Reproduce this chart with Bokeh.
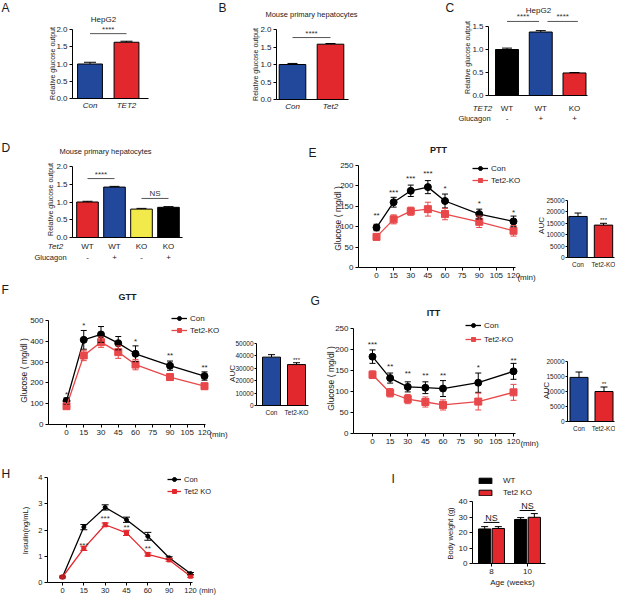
import math
from bokeh.plotting import figure
from bokeh.models import (Range1d, Label, Whisker, TeeHead, ColumnDataSource,
                          FixedTicker, Legend, LegendItem, PrintfTickFormatter)
from bokeh.layouts import row, column
from bokeh.core.properties import value
from bokeh.embed import file_html
from bokeh.resources import INLINE

FONT = "Liberation Sans"
BLUE = "#21489b"
RED = "#e2282c"
LRED = "#e8484a"
YELLOW = "#f2ea4b"
BLACK = "#000000"
TXT = "#1a1a1a"

# ---------------- data ----------------
a_cats = ["Con", "TET2"]
a_vals = [1.0, 1.63]
a_err = [0.05, 0.03]
a_sig = [(0, 1, 1.88, "****")]

b_cats = ["Con", "Tet2"]
b_vals = [1.0, 1.58]
b_err = [0.03, 0.02]
b_sig = [(0, 1, 1.77, "****")]

c_tet2 = ["WT", "WT", "KO"]
c_gluc = ["-", "+", "+"]
c_vals = [1.0, 1.38, 0.49]
c_err = [0.03, 0.03, 0.01]
c_sig = [(0, 0.95, 1.61, "****"), (1.2, 2.1, 1.61, "****")]

d_tet2 = ["WT", "WT", "KO", "KO"]
d_gluc = ["-", "+", "-", "+"]
d_vals = [1.0, 1.42, 0.80, 0.85]
d_err = [0.02, 0.02, 0.02, 0.02]
d_sig = [(0, 1, 1.66, "****"), (2, 3, 1.10, "NS")]

minutes = [0, 15, 30, 45, 60, 90, 120]

e_con = [98, 160, 188, 197, 163, 131, 113]
e_con_err = [8, 12, 14, 16, 17, 12, 13]
e_ko = [75, 118, 138, 143, 131, 112, 90]
e_ko_err = [6, 11, 10, 17, 14, 14, 13]
e_stars = ["**", "***", "***", "***", "*", "*", "*"]
e_star_y = [127, 184, 217, 230, 193, 156, 135]
e_auc = [18000, 14200]
e_auc_err = [1500, 800]
e_auc_star = ("***", 16600)

f_con = [113, 407, 433, 391, 340, 283, 233]
f_con_err = [15, 45, 38, 32, 38, 22, 20]
f_ko = [88, 332, 396, 348, 288, 228, 184]
f_ko_err = [12, 25, 25, 30, 25, 15, 15]
f_stars = ["*", "*", "", "", "*", "**", "**"]
f_star_y = [144, 476, 0, 0, 401, 332, 272]
f_auc = [39000, 33000]
f_auc_err = [2000, 1500]
f_auc_star = ("***", 36700)

g_con = [183, 132, 111, 109, 107, 121, 148]
g_con_err = [16, 12, 12, 14, 19, 23, 19]
g_ko = [140, 97, 82, 75, 68, 76, 98]
g_ko_err = [9, 10, 11, 12, 12, 20, 19]
g_stars = ["***", "**", "**", "**", "**", "*", "**"]
g_star_y = [211, 159, 143, 137, 137, 156, 175]
g_auc = [14700, 10000]
g_auc_err = [1800, 1500]
g_auc_star = ("**", 12600)

auc_cats = ["Con", "Tet2-KO"]

h_min = ["0", "15", "30", "45", "60", "90", "120"]
h_con = [0.21, 2.11, 2.86, 2.39, 1.76, 0.94, 0.34]
h_con_err = [0.03, 0.10, 0.10, 0.10, 0.15, 0.04, 0.04]
h_ko = [0.21, 1.30, 2.20, 1.89, 1.07, 0.86, 0.24]
h_ko_err = [0.03, 0.08, 0.07, 0.10, 0.06, 0.05, 0.04]
h_stars = ["", "***", "***", "**", "**", "", ""]
h_star_y = [0, 1.41, 2.43, 2.08, 1.28, 0, 0]

i_ages = ["8", "10"]
i_wt = [22.3, 28.4]
i_wt_err = [1.5, 1.2]
i_ko = [22.6, 29.8]
i_ko_err = [1.2, 2.4]
i_ns_line = [26.5, 34.2]
i_ns_text = [29.6, 37.3]


# ---------------- helpers ----------------
def mk(box, xa, ya):
    """Figure whose frame is the whole box; xa/ya are (pixel, value, pixel, value)
    anchors in page pixels used only to place the scales."""
    X0, X1, Y0, Y1 = box

    def fx(px):
        return xa[1] + (px - xa[0]) * (xa[3] - xa[1]) / (xa[2] - xa[0])

    def fy(py):
        return ya[1] + (py - ya[0]) * (ya[3] - ya[1]) / (ya[2] - ya[0])

    p = figure(width=X1 - X0, height=Y1 - Y0, output_backend="svg",
               toolbar_location=None, min_border=0, min_border_left=0,
               min_border_right=0, min_border_top=0, min_border_bottom=0,
               x_range=Range1d(fx(X0), fx(X1)), y_range=Range1d(fy(Y1), fy(Y0)))
    p.title.visible = False
    p.outline_line_color = None
    p.xgrid.visible = False
    p.ygrid.visible = False
    return p, fx, fy


def lbl(p, x, y, text, size="8px", style="normal", align="center",
        baseline="middle", color=TXT, angle=0.0):
    p.add_layout(Label(x=x, y=y, text=text, text_font=FONT, text_font_size=size,
                       text_font_style=style, text_align=align,
                       text_baseline=baseline, text_color=color, angle=angle))


def style_axis(ax, tick_fs, tick_out=3, standoff=2):
    ax.axis_line_color = BLACK
    ax.axis_line_width = 1
    ax.major_tick_line_color = BLACK
    ax.major_tick_out = tick_out
    ax.major_tick_in = 0
    ax.minor_tick_line_color = None
    ax.major_label_text_font = FONT
    ax.major_label_text_font_size = tick_fs
    ax.major_label_text_color = TXT
    ax.major_label_standoff = standoff


def place_axes(p, fx, fy, yaxis_px, xaxis_end_px, xloc=0.0):
    xa = p.xaxis[0]
    ya = p.yaxis[0]
    xa.fixed_location = xloc
    ya.fixed_location = fx(yaxis_px)
    xa.bounds = (fx(yaxis_px), fx(xaxis_end_px))
    return xa, ya


def bars(p, x, vals, errs, colors, width, cap):
    src = ColumnDataSource(dict(x=x, top=vals,
                                up=[v + e for v, e in zip(vals, errs)],
                                c=colors))
    r = p.vbar(x="x", top="top", width=width, fill_color="c",
               line_color=BLACK, line_width=1, source=src)
    p.add_layout(Whisker(base="x", lower="top", upper="up", source=src,
                         line_color=BLACK, line_width=1, level="overlay",
                         upper_head=TeeHead(size=cap, line_color=BLACK, line_width=1),
                         lower_head=None))
    return r


def bar_axes(p, fx, fy, yaxis_px, xend_px, cats, yticks, fmt, x_fs="8px",
             y_fs="8px", italic=False, x_standoff=2, y_tick_out=3, y_standoff=2):
    xa, ya = place_axes(p, fx, fy, yaxis_px, xend_px)
    style_axis(xa, x_fs, tick_out=0, standoff=x_standoff)
    style_axis(ya, y_fs, tick_out=y_tick_out, standoff=y_standoff)
    xa.ticker = FixedTicker(ticks=list(range(len(cats))))
    xa.major_label_overrides = {i: c for i, c in enumerate(cats)}
    if italic:
        xa.major_label_text_font_style = "italic"
    ya.ticker = FixedTicker(ticks=yticks)
    if fmt:
        ya.formatter = PrintfTickFormatter(format=fmt)
    ya.bounds = (yticks[0], yticks[-1])


def sig(p, sigs, fs="8px"):
    for x0, x1, y, t in sigs:
        p.segment(x0=[x0], y0=[y], x1=[x1], y1=[y], line_color="#555555",
                  line_width=1)
        p.text(x=[(x0 + x1) / 2], y=[y], text=[t], text_align="center",
               text_baseline="bottom", text_font=value(FONT),
               text_font_size=value(fs), text_color="#333333")


def series(p, x, y, err, color, marker, size, lw, cap):
    src = ColumnDataSource(dict(x=x, y=y,
                                lo=[a - b for a, b in zip(y, err)],
                                up=[a + b for a, b in zip(y, err)]))
    r1 = p.line("x", "y", source=src, line_color=color, line_width=lw)
    p.add_layout(Whisker(base="x", lower="lo", upper="up", source=src,
                         line_color=color, line_width=1, level="glyph",
                         upper_head=TeeHead(size=cap, line_color=color, line_width=1),
                         lower_head=TeeHead(size=cap, line_color=color, line_width=1)))
    r2 = p.scatter("x", "y", source=src, marker=marker, size=size,
                   fill_color=color, line_color=color)
    return [r1, r2]


def stars(p, x, ys, txt, fs="8px", color="#222222"):
    src = ColumnDataSource(dict(x=[a for a, t in zip(x, txt) if t],
                                y=[a for a, t in zip(ys, txt) if t],
                                t=[t for t in txt if t]))
    p.text(x="x", y="y", text="t", source=src, text_align="center",
           text_baseline="middle", text_font=value(FONT),
           text_font_size=value(fs), text_color=color)


def legend(p, items, loc, fs="8px", gw=16, gh=10, spacing=2, standoff=3):
    lg = Legend(items=[LegendItem(label=l, renderers=r) for l, r in items],
                location=loc, label_text_font=FONT, label_text_font_size=fs,
                label_text_color=TXT,
                glyph_width=gw, glyph_height=gh, spacing=spacing, padding=0,
                margin=0, border_line_color=None, background_fill_alpha=0,
                label_standoff=standoff, label_height=gh, label_width=10)
    p.add_layout(lg)


def line_axes(p, fx, fy, yaxis_px, xend_px, xticks, yticks, x_fs="8px", y_fs="8px"):
    xa, ya = place_axes(p, fx, fy, yaxis_px, xend_px)
    style_axis(xa, x_fs)
    style_axis(ya, y_fs)
    xa.ticker = FixedTicker(ticks=xticks)
    ya.ticker = FixedTicker(ticks=yticks)
    ya.bounds = (yticks[0], yticks[-1])
    return xa, ya


def auc_panel(box, xa_, ya_, yaxis_px, xend_px, vals, errs, yticks, star, ylab_xy):
    p, fx, fy = mk(box, xa_, ya_)
    idx = list(range(len(vals)))
    bars(p, idx, vals, errs, [BLUE, RED], 0.72, 7)
    bar_axes(p, fx, fy, yaxis_px, xend_px, auc_cats, yticks, None, x_fs="6.5px",
             y_fs="6.5px", x_standoff=3, y_tick_out=2, y_standoff=1)
    p.text(x=[idx[-1]], y=[star[1]], text=[star[0]], text_align="center",
           text_baseline="middle", text_font=value(FONT),
           text_font_size=value("6px"), text_color="#222222")
    lbl(p, fx(ylab_xy[0]), fy(ylab_xy[1]), "AUC", "8px", angle=math.pi / 2)
    return p


# ---------------- Row 1 ----------------
boxA = (0, 204, 0, 130)
pA, fx, fy = mk(boxA, (89.5, 0, 126, 1), (98, 0, 29, 2.0))
bars(pA, list(range(len(a_vals))), a_vals, a_err, [BLUE, RED], 0.68, 12)
bar_axes(pA, fx, fy, 72, 148, a_cats, [0, 0.5, 1.0, 1.5, 2.0], "%.1f", italic=True)
sig(pA, a_sig)
lbl(pA, fx(103), fy(19), "HepG2", "8px")
lbl(pA, fx(52), fy(63), "Relative glucose output", "7px", angle=math.pi / 2)
lbl(pA, fx(1), fy(0), "A", "12px", align="left", baseline="top")

boxB = (204, 400, 0, 130)
pB, fx, fy = mk(boxB, (292, 0, 330, 1), (99, 0, 29, 2.0))
bars(pB, list(range(len(b_vals))), b_vals, b_err, [BLUE, RED], 0.7, 10)
bar_axes(pB, fx, fy, 276, 348, b_cats, [0, 0.5, 1.0, 1.5, 2.0], "%.1f", italic=True)
sig(pB, b_sig)
lbl(pB, fx(311), fy(14), "Mouse primary hepatocytes", "7.5px")
lbl(pB, fx(255), fy(64), "Relative glucose output", "7px", angle=math.pi / 2)
lbl(pB, fx(218), fy(0), "B", "12px", align="left", baseline="top")

boxC = (400, 615, 0, 130)
pC, fx, fy = mk(boxC, (506.5, 0, 574, 2), (95, 0, 26, 1.5))
bars(pC, list(range(len(c_vals))), c_vals, c_err, [BLACK, BLUE, RED], 0.68, 10)
bar_axes(pC, fx, fy, 488, 587, c_tet2, [0, 0.5, 1.0, 1.5], "%.1f", x_standoff=8)
sig(pC, c_sig)
lbl(pC, fx(538), fy(10), "HepG2", "8px")
lbl(pC, fx(467), fy(57), "Relative glucose output", "7px", angle=math.pi / 2)
lbl(pC, fx(445), fy(0), "C", "12px", align="left", baseline="top")
lbl(pC, fx(482), fy(108), "TET2", "8px", style="italic")
lbl(pC, fx(474), fy(118), "Glucagon", "7.5px")
for i, s in enumerate(c_gluc):
    lbl(pC, i, fy(118), s, "8px")

# ---------------- Row 2 ----------------
boxD = (0, 208, 130, 282)
pD, fx, fy = mk(boxD, (87, 0, 168, 3), (237, 0, 166, 2.0))
bars(pD, list(range(len(d_vals))), d_vals, d_err, [RED, BLUE, YELLOW, BLACK], 0.8, 10)
bar_axes(pD, fx, fy, 72, 182, d_tet2, [0, 0.5, 1.0, 1.5, 2.0], "%.1f", x_standoff=4)
sig(pD, d_sig)
lbl(pD, fx(105), fy(151), "Mouse primary hepatocytes", "7.5px")
lbl(pD, fx(50), fy(199), "Relative glucose output", "7px", angle=math.pi / 2)
lbl(pD, fx(1), fy(140), "D", "12px", align="left", baseline="top")
lbl(pD, fx(55), fy(246), "Tet2", "8px", style="italic")
lbl(pD, fx(50), fy(257), "Glucagon", "7.5px")
for i, s in enumerate(d_gluc):
    lbl(pD, i, fy(257), s, "8px")

boxE = (208, 537, 130, 282)
pE, fx, fy = mk(boxE, (376, 0, 513, 120), (267, 0, 165, 250))
rc = series(pE, minutes, e_con, e_con_err, BLACK, "circle", 7, 1.3, 6)
rk = series(pE, minutes, e_ko, e_ko_err, LRED, "square", 7, 1.3, 6)
stars(pE, minutes, e_star_y, e_stars)
line_axes(pE, fx, fy, 358, 515, list(range(0, 121, 15)), [0, 50, 100, 150, 200, 250])
legend(pE, [("Con", rc), ("Tet2-KO", rk)], (472 - 208, 282 - 185))
lbl(pE, fx(438), fy(149), "PTT", "9px", style="bold")
lbl(pE, fx(337), fy(218), "Glucose ( mg/dl )", "8.5px", angle=math.pi / 2)
lbl(pE, fx(308), fy(145), "E", "12px", align="left", baseline="top")
lbl(pE, fx(526), fy(277), "(min)", "8px")

boxEa = (537, 615, 130, 282)
pEa = auc_panel(boxEa, (577.5, 0, 603, 1), (257, 0, 200, 25000), 567, 614,
                e_auc, e_auc_err, [0, 5000, 10000, 15000, 20000, 25000],
                e_auc_star, (541, 225))

# ---------------- Row 3 ----------------
boxF = (0, 228, 282, 450)
pF, fx, fy = mk(boxF, (66, 0, 204, 120), (424, 0, 320, 500))
rc = series(pF, minutes, f_con, f_con_err, BLACK, "circle", 7, 1.3, 6)
rk = series(pF, minutes, f_ko, f_ko_err, LRED, "square", 7, 1.3, 6)
stars(pF, minutes, f_star_y, f_stars)
line_axes(pF, fx, fy, 48, 205, list(range(0, 121, 15)), [0, 100, 200, 300, 400, 500])
legend(pF, [("Con", rc), ("Tet2-KO", rk)], (171, 450 - 335))
lbl(pF, fx(127), fy(296), "GTT", "9px", style="bold")
lbl(pF, fx(23), fy(370), "Glucose ( mg/dl )", "8.5px", angle=math.pi / 2)
lbl(pF, fx(1), fy(282), "F", "12px", align="left", baseline="top")
lbl(pF, fx(218), fy(434), "(min)", "8px")

boxFa = (228, 309, 282, 450)
pFa = auc_panel(boxFa, (271, 0, 296, 1), (405, 0, 343, 50000), 256, 308,
                f_auc, f_auc_err, [0, 10000, 20000, 30000, 40000, 50000],
                f_auc_star, (232, 373))

boxG = (309, 541, 282, 450)
pG, fx, fy = mk(boxG, (372, 0, 513, 120), (433, 0, 328, 250))
rc = series(pG, minutes, g_con, g_con_err, BLACK, "circle", 7, 1.3, 6)
rk = series(pG, minutes, g_ko, g_ko_err, LRED, "square", 7, 1.3, 6)
stars(pG, minutes, g_star_y, g_stars)
line_axes(pG, fx, fy, 353, 515, list(range(0, 121, 15)), [0, 50, 100, 150, 200, 250])
legend(pG, [("Con", rc), ("Tet2-KO", rk)], (465 - 309, 450 - 344), spacing=4)
lbl(pG, fx(433), fy(312), "ITT", "9px", style="bold")
lbl(pG, fx(330), fy(378), "Glucose ( mg/dl )", "8.5px", angle=math.pi / 2)
lbl(pG, fx(310), fy(293), "G", "12px", align="left", baseline="top")
lbl(pG, fx(529), fy(443), "(min)", "8px")

boxGa = (541, 615, 282, 450)
pGa = auc_panel(boxGa, (578.5, 0, 603.5, 1), (421, 0, 361, 20000), 567, 614,
                g_auc, g_auc_err, [0, 5000, 10000, 15000, 20000],
                g_auc_star, (546, 390))

# ---------------- Row 4 ----------------
boxH = (0, 360, 450, 596)
pH, fx, fy = mk(boxH, (62, 0, 190, 6), (582, 0, 477, 4))
hx = list(range(len(h_min)))
rc = series(pH, hx, h_con, h_con_err, BLACK, "circle", 4, 1.3, 7)
rk = series(pH, hx, h_ko, h_ko_err, RED, "square", 4, 1.3, 7)
stars(pH, hx, h_star_y, h_stars, fs="8px", color="#333333")
xa, ya = line_axes(pH, fx, fy, 47, 192, hx, [0, 1, 2, 3, 4], x_fs="7.5px", y_fs="7.5px")
xa.major_label_overrides = {i: m for i, m in enumerate(h_min)}
legend(pH, [("Con", rc), ("Tet2 KO", rk)], (167, 596 - 496), fs="7.5px", gw=14)
lbl(pH, fx(25), fy(530), "Insulin(ng/mL)", "7.5px", angle=math.pi / 2)
lbl(pH, fx(1), fy(466), "H", "12px", align="left", baseline="top")
lbl(pH, fx(207), fy(590), "(min)", "7.5px")

boxI = (360, 615, 450, 596)
pI, fx, fy = mk(boxI, (491, 0, 527, 1), (563, 0, 501, 40))
ix = list(range(len(i_ages)))
src_wt = ColumnDataSource(dict(x=[v - 0.19 for v in ix], top=i_wt,
                               up=[a + b for a, b in zip(i_wt, i_wt_err)]))
src_ko = ColumnDataSource(dict(x=[v + 0.19 for v in ix], top=i_ko,
                               up=[a + b for a, b in zip(i_ko, i_ko_err)]))
r_wt = pI.vbar(x="x", top="top", width=0.34, fill_color=BLACK, line_color=BLACK,
               source=src_wt)
r_ko = pI.vbar(x="x", top="top", width=0.34, fill_color=RED, line_color=BLACK,
               source=src_ko)
for s in (src_wt, src_ko):
    pI.add_layout(Whisker(base="x", lower="top", upper="up", source=s,
                          line_color=BLACK, line_width=1, level="overlay",
                          upper_head=TeeHead(size=7, line_color=BLACK, line_width=1),
                          lower_head=None))
pI.segment(x0=[v - 0.22 for v in ix], y0=i_ns_line, x1=[v + 0.22 for v in ix],
           y1=i_ns_line, line_color=BLACK, line_width=1)
pI.text(x=ix, y=i_ns_text, text=["NS"] * len(ix), text_align="center",
        text_baseline="middle", text_font=value(FONT), text_font_size=value("9px"),
        text_color=TXT)
xa, ya = place_axes(pI, fx, fy, 472, 545)
style_axis(xa, "8px", tick_out=3)
style_axis(ya, "8px")
xa.ticker = FixedTicker(ticks=ix)
xa.major_label_overrides = {i: a for i, a in enumerate(i_ages)}
ya.ticker = FixedTicker(ticks=[0, 10, 20, 30, 40])
ya.bounds = (0, 40)
legend(pI, [("WT", [r_wt]), ("Tet2 KO", [r_ko])], (477 - 360, 596 - 497), fs="8px",
       gw=16, gh=7, spacing=3, standoff=10)
lbl(pI, fx(450), fy(533), "Body weight (g)", "7.5px", angle=math.pi / 2)
lbl(pI, fx(512), fy(582), "Age (weeks)", "8px")
lbl(pI, fx(391), fy(471), "I", "12px", align="left", baseline="top")

layout = column(
    row(pA, pB, pC),
    row(pD, pE, pEa),
    row(pF, pFa, pG, pGa),
    row(pH, pI),
)

open("out.html", "w").write(file_html(layout, INLINE))
